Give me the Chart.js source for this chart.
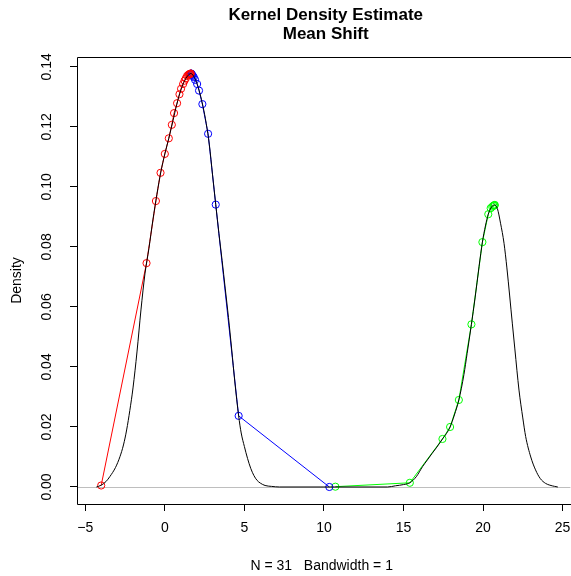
<!DOCTYPE html>
<html>
<head>
<meta charset="utf-8">
<script src="https://cdn.jsdelivr.net/npm/chart.js@4.4.1/dist/chart.umd.min.js"></script>
<style>
  html, body { margin: 0; padding: 0; background: #fff; }
</style>
</head>
<body>
<canvas id="myChart" width="571" height="576"></canvas>
<script>
// density curve
const densX = [-4.3, -4.0, -3.7, -3.45, -3.1, -2.82, -2.6, -2.4, -2.2, -2.0, -1.75, -1.5, -1.25, -1.0, -0.75, -0.5, -0.25,
  0.0, 0.25, 0.5, 0.75, 1.0, 1.25, 1.5, 1.65, 1.8, 2.0, 2.2, 2.4, 2.6, 2.8, 3.0, 3.2, 3.4, 3.6, 3.8, 4.0, 4.2, 4.4, 4.64,
  4.8, 5.0, 5.2, 5.4, 5.6, 5.8, 6.0, 6.3, 6.7, 7.2, 10.0, 14.0, 14.5, 15.0, 15.4, 15.8, 16.2, 16.5, 16.8, 17.1, 17.45,
  17.7, 17.93, 18.2, 18.48, 18.8, 19.0, 19.27, 19.5, 19.75, 19.96, 20.15, 20.33, 20.5, 20.7, 20.9, 21.1, 21.32, 21.5,
  21.84, 22.0, 22.26, 22.5, 22.68, 23.0, 23.3, 23.6, 23.93, 24.2, 24.5, 24.7];
const densY = [0.0000, 0.0006, 0.0018, 0.0035, 0.0065, 0.0101, 0.0140, 0.0190, 0.0255, 0.0330, 0.0450, 0.0590, 0.0710,
  0.0795, 0.0890, 0.0975, 0.1050, 0.1110, 0.1162, 0.1218, 0.1275, 0.1322, 0.1355, 0.1374, 0.1378, 0.1370, 0.1348,
  0.1313, 0.1268, 0.1212, 0.1140, 0.1040, 0.0941, 0.0845, 0.0755, 0.0660, 0.0565, 0.0460, 0.0350, 0.0237, 0.0180,
  0.0135, 0.0095, 0.0062, 0.0038, 0.0022, 0.0013, 0.0005, 0.0002, 0.0000, 0.0000, 0.0000, 0.0004, 0.0008, 0.0014,
  0.0034, 0.0068, 0.0090, 0.0112, 0.0133, 0.0160, 0.0178, 0.0200, 0.0240, 0.0290, 0.0375, 0.0445, 0.0542, 0.0630,
  0.0735, 0.0816, 0.0870, 0.0909, 0.0930, 0.0940, 0.0928, 0.0879, 0.0812, 0.0730, 0.0546, 0.0460, 0.0323, 0.0230,
  0.0168, 0.0100, 0.0057, 0.0028, 0.0012, 0.0006, 0.0002, 0.0000];

// mean shift paths
const redX = [-4.0, -1.15, -0.56, -0.27, 0.0, 0.25, 0.44, 0.58, 0.77, 0.92, 1.02, 1.15, 1.24, 1.32, 1.40, 1.47, 1.52, 1.56, 1.59, 1.61, 1.63];
const redY = [0.0005, 0.0746, 0.0953, 0.1047, 0.1110, 0.1162, 0.1207, 0.1246, 0.1279, 0.1309, 0.1327, 0.1343, 0.1354, 0.1362, 0.1370, 0.1373, 0.1375, 0.1376, 0.1377, 0.1377, 0.1378];
const blueX = [10.34, 4.64, 3.2, 2.72, 2.36, 2.15, 2.03, 1.90, 1.82, 1.76, 1.72, 1.69, 1.67, 1.66, 1.65];
const blueY = [0.0000, 0.0237, 0.0941, 0.1177, 0.1276, 0.1321, 0.1343, 0.1357, 0.1366, 0.1370, 0.1373, 0.1375, 0.1377, 0.1377, 0.1378];
const greenX = [10.72, 15.4, 17.45, 17.93, 18.48, 19.27, 19.96, 20.33, 20.48, 20.58, 20.65, 20.69, 20.72, 20.74];
const greenY = [0.0001, 0.0014, 0.0160, 0.0200, 0.0290, 0.0542, 0.0816, 0.0909, 0.0929, 0.0934, 0.0937, 0.0938, 0.0939, 0.0940];

const xTicks = [-5, 0, 5, 10, 15, 20, 25];
const yTicks = [0, 0.02, 0.04, 0.06, 0.08, 0.10, 0.12, 0.14];

const titleLines = ["Kernel Density Estimate", "Mean Shift"];
const xTitle = "N = 31   Bandwidth = 1";
const yTitle = "Density";

const FONT = "'Liberation Sans', Arial, sans-serif";

const pts = (xs, ys) => xs.map((x, i) => ({ x: x, y: ys[i] }));

const pathSet = (xs, ys, color) => ({
  data: pts(xs, ys),
  showLine: true,
  borderColor: color,
  borderWidth: 1,
  pointRadius: 3.6,
  pointBorderWidth: 1,
  pointBorderColor: color,
  pointBackgroundColor: "rgba(0,0,0,0)",
  pointHoverRadius: 3.6,
});

// gray abline at 0, plus R style box, rotated y labels and the title
const decor = {
  id: "decor",
  beforeDatasetsDraw(chart) {
    const { ctx, chartArea, scales } = chart;
    const y0 = Math.round(scales.y.getPixelForValue(0)) + 0.5;
    ctx.save();
    ctx.strokeStyle = "#bebebe";
    ctx.lineWidth = 1;
    ctx.beginPath();
    ctx.moveTo(chartArea.left, y0);
    ctx.lineTo(chartArea.right + 4, y0);
    ctx.stroke();
    ctx.restore();
  },
  afterDraw(chart) {
    const { ctx, chartArea, scales } = chart;
    const l = chartArea.left + 0.5, t = chartArea.top + 0.5, b = chartArea.bottom + 0.5;
    ctx.save();
    ctx.strokeStyle = "#000";
    ctx.lineWidth = 1;
    ctx.beginPath();
    ctx.moveTo(chart.width + 1, t);
    ctx.lineTo(l, t);
    ctx.lineTo(l, b);
    ctx.lineTo(chart.width + 1, b);
    ctx.stroke();

    ctx.fillStyle = "#000";
    ctx.font = "14px " + FONT;
    ctx.textAlign = "center";
    ctx.textBaseline = "middle";
    scales.y.ticks.forEach((tk) => {
      const py = scales.y.getPixelForValue(tk.value);
      ctx.save();
      ctx.translate(47, py);
      ctx.rotate(-Math.PI / 2);
      ctx.fillText(tk.value.toFixed(2), 0, 0);
      ctx.restore();
    });

    ctx.font = "bold 17px " + FONT;
    const cx = (chartArea.left + chartArea.right) / 2 + 4;
    titleLines.forEach((s, i) => ctx.fillText(s, cx, 15 + i * 19));
    ctx.restore();
  },
};

new Chart(document.getElementById("myChart"), {
  type: "scatter",
  data: {
    datasets: [
      {
        data: pts(densX, densY),
        showLine: true,
        borderColor: "#000",
        borderWidth: 1,
        pointRadius: 0,
        cubicInterpolationMode: "monotone",
      },
      pathSet(redX, redY, "#ff0000"),
      pathSet(blueX, blueY, "#0000ff"),
      pathSet(greenX, greenY, "#00ff00"),
    ],
  },
  options: {
    responsive: false,
    animation: false,
    layout: { padding: { top: 57, left: 0, right: 0, bottom: 0 } },
    plugins: {
      legend: { display: false },
      tooltip: { enabled: false },
      title: { display: false },
    },
    scales: {
      x: {
        type: "linear",
        position: "bottom",
        min: -5.52,
        max: 25.24,
        afterBuildTicks: (s) => { s.ticks = xTicks.map((v) => ({ value: v })); },
        afterFit: (s) => { s.height = 72; s.paddingLeft = 0; s.paddingRight = 0; },
        grid: { drawOnChartArea: false, drawTicks: true, tickLength: 7, tickColor: "#000", tickWidth: 1 },
        border: { display: false },
        ticks: {
          autoSkip: false,
          maxRotation: 0,
          padding: 9,
          color: "#000",
          font: { family: FONT, size: 14 },
          callback: (v) => (v < 0 ? "\u2212" + Math.abs(v) : String(v)),
        },
        title: {
          display: true,
          text: xTitle,
          color: "#000",
          font: { family: FONT, size: 14 },
          padding: { top: 0, bottom: 1 },
        },
      },
      y: {
        position: "left",
        min: -0.00567,
        max: 0.1433,
        afterBuildTicks: (s) => { s.ticks = yTicks.map((v) => ({ value: v })); },
        afterFit: (s) => { s.width = 77; s.paddingTop = 0; s.paddingBottom = 0; },
        grid: { drawOnChartArea: false, drawTicks: true, tickLength: 7, tickColor: "#000", tickWidth: 1 },
        border: { display: false },
        ticks: { display: false },
        title: {
          display: true,
          text: yTitle,
          color: "#000",
          font: { family: FONT, size: 14 },
          padding: { top: 9, bottom: 0 },
        },
      },
    },
  },
  plugins: [decor],
});
</script>
</body>
</html>
